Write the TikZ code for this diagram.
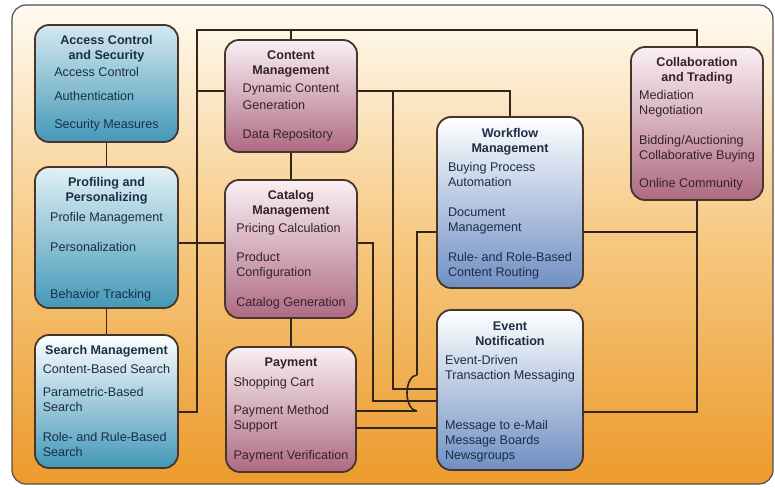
\documentclass[tikz,border=0pt]{standalone}
\usepackage{fontspec}
\setmainfont{Liberation Sans}
\usetikzlibrary{positioning}
\definecolor{boxline}{HTML}{45352B}
\definecolor{linkcol}{HTML}{34251B}
\definecolor{framecol}{HTML}{505050}
\definecolor{bgtop}{HTML}{FFFBF2}
\definecolor{bgmid}{HTML}{F6C77F}
\definecolor{bgbot}{HTML}{EC9A2C}
\definecolor{tealtop}{HTML}{E2F1F5}
\definecolor{tealbot}{HTML}{4398B8}
\definecolor{steelbot}{HTML}{6F8FC2}
\definecolor{mauvetop}{HTML}{FAF0F3}
\definecolor{mauvebot}{HTML}{AE6A82}
\definecolor{bluefont}{HTML}{1A2E48}
\definecolor{plumfont}{HTML}{35202F}
\tikzset{
  tealbox/.style={rectangle, rounded corners=14pt, draw=boxline, line width=1.8pt, inner sep=0pt, top color=tealtop, bottom color=tealbot},
  steelbox/.style={rectangle, rounded corners=14pt, draw=boxline, line width=1.8pt, inner sep=0pt, top color=white, bottom color=steelbot},
  mauvebox/.style={rectangle, rounded corners=14pt, draw=boxline, line width=1.8pt, inner sep=0pt, top color=mauvetop, bottom color=mauvebot},
  boxtext/.style={anchor=north, align=center, inner sep=0pt, font=\fontsize{12.6}{15}\selectfont},
  bluetext/.style={boxtext, text=bluefont},
  plumtext/.style={boxtext, text=plumfont},
  link/.style={draw=linkcol, line width=1.6pt}
}
\begin{document}
\begin{tikzpicture}[x=1pt, y=-1pt]
        \useasboundingbox (0,0) rectangle (775,487);
        \draw[rounded corners=14pt, draw=framecol, line width=1.2pt, top color=bgtop, bottom color=bgbot, middle color=bgmid] (12,5) rectangle (773,484);

        % left column
        \node (acs) [tealbox, top color=tealtop!70!tealbot!55!white, minimum width=143pt, minimum height=117pt] at (106.5,83.5) {};
        \node (prof) [tealbox, minimum width=143pt, minimum height=141pt] at (106.5,237.5) {};
        \node (search) [tealbox, top color=white, minimum width=143pt, minimum height=133pt] at (106.5,401.5) {};
        % middle column
        \node (content) [mauvebox, minimum width=132pt, minimum height=112pt] at (291,96) {};
        \node (catalog) [mauvebox, minimum width=132pt, minimum height=138pt] at (291,249) {};
        \node (payment) [mauvebox, minimum width=130pt, minimum height=125pt] at (291,409.5) {};
        % right side
        \node (workflow) [steelbox, minimum width=146pt, minimum height=171pt] at (510,202.5) {};
        \node (event) [steelbox, minimum width=146pt, minimum height=160pt] at (510,390) {};
        \node (collab) [mauvebox, minimum width=132pt, minimum height=153pt] at (697,123.5) {};

        \node (acstxt) [bluetext] at ([yshift=-11.5pt]acs.north) {\textbf{Access Control}\\\textbf{and Security}\\[2pt]\begin{tabular}[t]{@{}l@{}}Access Control\\[9pt]Authentication\\[13pt]Security Measures\end{tabular}};
        \node (proftxt) [bluetext] at ([yshift=-11pt]prof.north) {\textbf{Profiling and}\\\textbf{Personalizing}\\[5pt]\begin{tabular}[t]{@{}l@{}}Profile Management\\[15pt]Personalization\\[32pt]Behavior Tracking\end{tabular}};
        \node (searchtxt) [bluetext] at ([yshift=-11.5pt]search.north) {\textbf{Search Management}\\[4pt]\begin{tabular}[t]{@{}l@{}}Content-Based Search\\[8pt]Parametric-Based\\Search\\[15pt]Role- and Rule-Based\\Search\end{tabular}};
        \node (contenttxt) [plumtext] at ([yshift=-11.5pt]content.north) {\textbf{Content}\\\textbf{Management}\\[3pt]\begin{tabular}[t]{@{}l@{}}Dynamic Content\\[2pt]Generation\\[14pt]Data Repository\end{tabular}};
        \node (catalogtxt) [plumtext] at ([yshift=-11.5pt]catalog.north) {\textbf{Catalog}\\\textbf{Management}\\[3pt]\begin{tabular}[t]{@{}l@{}}Pricing Calculation\\[14pt]Product\\Configuration\\[15pt]Catalog Generation\end{tabular}};
        \node (paymenttxt) [plumtext] at ([yshift=-12pt]payment.north) {\textbf{Payment}\\[5pt]\begin{tabular}[t]{@{}l@{}}Shopping Cart\\[13pt]Payment Method\\Support\\[15pt]Payment Verification\end{tabular}};
        \node (workflowtxt) [bluetext] at ([yshift=-12.5pt]workflow.north) {\textbf{Workflow}\\\textbf{Management}\\[4pt]\begin{tabular}[t]{@{}l@{}}Buying Process\\Automation\\[15pt]Document\\Management\\[15pt]Rule- and Role-Based\\Content Routing\end{tabular}};
        \node (eventtxt) [bluetext] at ([yshift=-12.5pt]event.north) {\textbf{Event}\\\textbf{Notification}\\[4pt]\begin{tabular}[t]{@{}l@{}}Event-Driven\\Transaction Messaging\\[35pt]Message to e-Mail\\Message Boards\\Newsgroups\end{tabular}};
        \node (collabtxt) [plumtext] at ([yshift=-11.5pt]collab.north) {\textbf{Collaboration}\\\textbf{and Trading}\\[3pt]\begin{tabular}[t]{@{}l@{}}Mediation\\Negotiation\\[15pt]Bidding/Auctioning\\Collaborative Buying\\[13pt]Online Community\end{tabular}};

        % corner points of the wiring
        \coordinate (busL) at (197,30);
        \coordinate (busR) at (697,30);
        \coordinate (j1) at (197,91);
        \coordinate (j2) at (197,243);
        \coordinate (j3) at (393,91);
        \coordinate (e1) at (393,389);
        \coordinate (c1) at (373,243);
        \coordinate (c2) at (373,401);
        \coordinate (w1) at (417,232);
        \coordinate (w2) at (417,375);
        \coordinate (p1) at (417,411);
        \coordinate (p2) at (400,428);
        \coordinate (n1) at (697,412);
        \coordinate (s1) at (197,412);

        \draw [link] (acs.south) -- (prof.north);
        \draw [link] (prof.south) -- (search.north);
        \draw [link] (content.south) -- (catalog.north);
        \draw [link] (catalog.south) -- (payment.north);
        \draw [link] (search.east |- s1) -- (s1) -- (busL) -- (busR) -- (collab.north);
        \draw [link] (content.north) -- (content.north |- busL);
        \draw [link] (j1) -- (content.west |- j1);
        \draw [link] (prof.east |- j2) -- (catalog.west |- j2);
        \draw [link] (content.east |- j1) -| (workflow.north);
        \draw [link] (j3) -- (e1) -- (event.west |- e1);
        \draw [link] (catalog.east |- c1) -- (c1) -- (c2) -- (event.west |- c2);
        % hop over the two lines into Event Notification
        \draw [link] (workflow.west |- w1) -- (w1) -- (w2);
        \draw [link] (w2) arc[start angle=90, end angle=270, x radius=10pt, y radius=18pt];
        \draw [link] (p1) -- (p1 -| payment.east);
        \draw [link] (payment.east |- p2) -- (event.west |- p2);
        \draw [link] (workflow.east |- w1) -- (collab.south |- w1);
        \draw [link] (collab.south) -- (n1) -- (event.east |- n1);

    \end{tikzpicture}
\end{document}
